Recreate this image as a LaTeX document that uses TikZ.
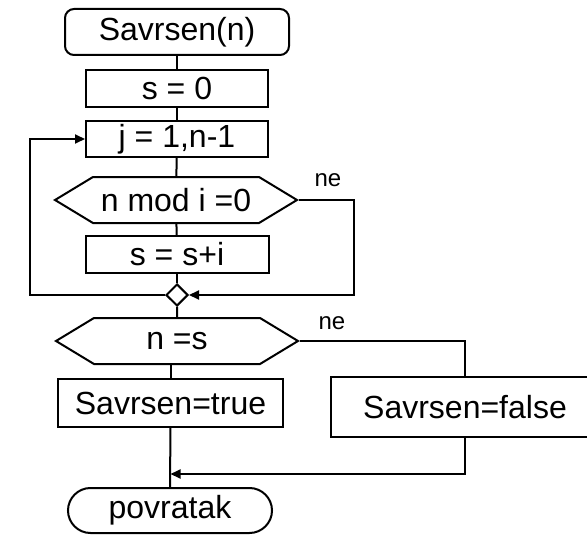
\documentclass[tikz,border=0pt]{standalone}
\usepackage{fontspec}
\setmainfont{Liberation Sans}
\usetikzlibrary{arrows.meta,calc,positioning,shapes.misc,shapes.geometric,shapes.symbols}

\begin{document}
\begin{tikzpicture}[x=1pt, y=-1pt, >={Triangle[length=10pt,width=9pt]},
    every node/.style={font=\fontsize{32}{36}\selectfont, inner sep=0pt},
    every path/.style={line width=2pt},
    box/.style={draw, rectangle, minimum width=182pt, minimum height=37pt},
    termbox/.style={draw, rectangle, rounded corners=9pt, minimum width=224pt, minimum height=46pt},
    endbox/.style={draw, rounded rectangle, minimum width=204pt, minimum height=45pt},
    cond/.style={draw, signal, signal from=nowhere, signal to=east and west,
      signal pointer angle=62.4, minimum width=242pt, minimum height=46pt},
    joint/.style={draw, diamond, minimum width=22pt, minimum height=22pt},
    lbl/.style={font=\fontsize{24}{28}\selectfont}]

  \useasboundingbox (0,0) rectangle (587,535);

  %-------------------------
  % Loop over divisors
  %-------------------------
  \node[termbox] (start) at (177,32) {Savrsen(n)};
  \node[box] (init) at (177,88.5) {s = 0};
  \node[box, minimum height=36pt] (loop) at (177,139) {j = 1,n-1};
  \node[cond] (test) at (176,200) {n mod i =0};
  \node[box, minimum width=183pt] (sum) at (177,254.5) {s = s+i};
  \node[joint] (join) at (177,295) {};
  \node[lbl] (ne1) at (328,180) {ne};

  \draw (start) -- (init);
  \draw (init) -- (loop);
  \draw (loop) -- (test);
  \draw (test) -- (sum);
  \draw (sum) -- (join);
  \draw[->] (test.east) -- ++(55,0) |- (join.east);
  \draw[->] (join.west) -- ++(-135,0) |- (loop.west);

  %-------------------------
  % Result
  %-------------------------
  \node[cond] (check) at (177,341) {n =s};
  \node[box, minimum width=225pt, minimum height=48pt] (yes) at (170.5,403) {Savrsen=true};
  \node[box, minimum width=268pt, minimum height=60pt] (no) at (465,407) {Savrsen=false};
  \node[endbox] (ret) at (170,510.5) {povratak};
  \node[lbl] (ne2) at (332,323) {ne};
  \coordinate (merge) at (170.5,474);

  \draw (join) -- (check);
  \draw (yes.north) -- (yes.north |- check.south);
  \draw (check.east) -| (no.north);
  \draw (yes) -- (ret);
  \draw[->] (no.south) |- (merge);

\end{tikzpicture}
\end{document}
